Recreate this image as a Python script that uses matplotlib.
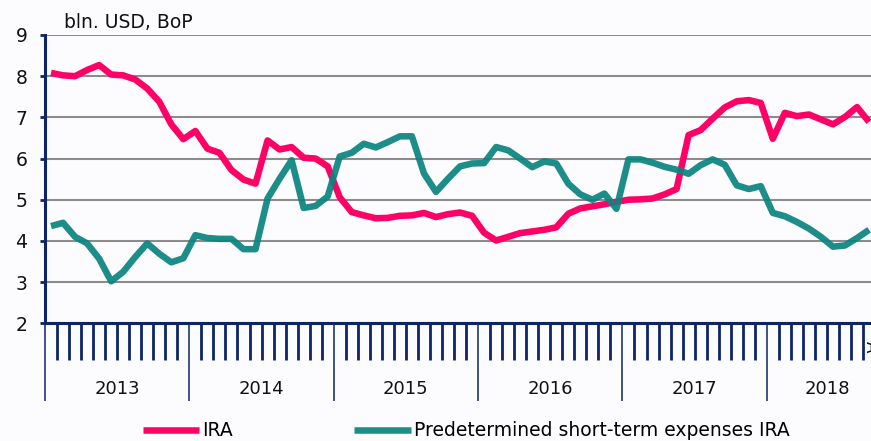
import matplotlib.pyplot as plt
import numpy as np

# monthly values, Jan 2013 - Sep 2018
ira = [8.08, 8.02, 8.0, 8.15, 8.27, 8.04, 8.02, 7.92, 7.7, 7.38, 6.83, 6.47,
       6.67, 6.24, 6.14, 5.72, 5.49, 5.39, 6.44, 6.22, 6.28, 6.02, 6.0, 5.81,
       5.06, 4.7, 4.62, 4.55, 4.56, 4.61, 4.62, 4.68, 4.58, 4.65, 4.69, 4.61,
       4.2, 4.01, 4.1, 4.19, 4.23, 4.27, 4.33, 4.66, 4.79, 4.84, 4.89, 4.95,
       5.0, 5.01, 5.03, 5.13, 5.26, 6.57, 6.69, 6.97, 7.24, 7.39, 7.42, 7.35,
       6.48, 7.11, 7.03, 7.07, 6.95, 6.83, 7.01, 7.25, 6.89]
expenses = [4.36, 4.44, 4.1, 3.94, 3.57, 3.02, 3.25, 3.61, 3.94, 3.69, 3.48, 3.58,
            4.14, 4.07, 4.05, 4.05, 3.8, 3.8, 5.03, 5.51, 5.96, 4.8, 4.85, 5.08,
            6.05, 6.14, 6.36, 6.27, 6.4, 6.54, 6.54, 5.64, 5.19, 5.51, 5.81, 5.88,
            5.89, 6.28, 6.2, 6.0, 5.79, 5.93, 5.88, 5.39, 5.13, 5.0, 5.15, 4.78,
            5.98, 5.98, 5.9, 5.8, 5.73, 5.63, 5.84, 5.98, 5.85, 5.35, 5.26, 5.33,
            4.68, 4.6, 4.46, 4.3, 4.1, 3.86, 3.89, 4.07, 4.27]
years = ['2013', '2014', '2015', '2016', '2017', '2018']
n_months = 70  # axis runs to Oct 2018, figure is cut on the right

navy = '#0b2566'
pink = '#ff0066'
teal = '#0a8480'
bg = '#fcfcff'

fig = plt.figure(figsize=(8.71, 4.41), dpi=100, facecolor=bg)
ax = fig.add_axes([45/871, 1-323.3/441, n_months*12.03/871, 288.3/441], facecolor=bg)

x = np.arange(len(ira)) + 0.5
ax.plot(x, ira, color=pink, lw=4.7, solid_joinstyle='round', solid_capstyle='butt', label='IRA', zorder=3)
ax.plot(x, expenses, color=teal, lw=4.7, alpha=0.92, solid_joinstyle='round', solid_capstyle='butt',
        label='Predetermined short-term expenses IRA', zorder=4)

ax.set_xlim(0, n_months)
ax.set_ylim(2, 9)
ax.set_yticks(range(2, 10))
ax.yaxis.grid(True, color='#8c8c8c', lw=1.5)
ax.set_axisbelow(True)

for s in ['top', 'right']:
    ax.spines[s].set_visible(False)
for s in ['left', 'bottom']:
    ax.spines[s].set_color(navy)
    ax.spines[s].set_linewidth(2.2)

ax.tick_params(axis='y', length=3.6, width=2, color=navy, pad=9, labelsize=13.5, labelcolor='#111111')
ax.set_xticks(np.arange(0, n_months + 1, 12))
ax.set_xticks(np.arange(0, n_months + 1), minor=True)
ax.tick_params(axis='x', which='major', length=56, width=1.1, color=navy, labelbottom=False)
ax.tick_params(axis='x', which='minor', length=26.6, width=2.0, color=navy)

for i, yr in enumerate(years):
    lo, hi = i*12, min((i+1)*12, n_months)
    ax.text((lo+hi)/2, -66/41.2 + 2, yr, ha='center', va='center', fontsize=13, color='#111111',
            clip_on=False)

fig.text(64/871, 1-28/441, 'bln. USD, BoP', fontsize=13.5, color='#111111', va='baseline')
# label of the next category, clipped by the right edge as in the source
fig.text(862/871, 1-347/441, 'A', rotation=270, fontsize=12, va='center', ha='left', color='#111111')

fig.legend(loc='center', bbox_to_anchor=(466/871, 1-431/441), ncol=2, frameon=False,
           fontsize=13.5, handlelength=3.0, handletextpad=0.15, columnspacing=6.5)

fig.savefig('out.png', dpi=100, facecolor=bg)
